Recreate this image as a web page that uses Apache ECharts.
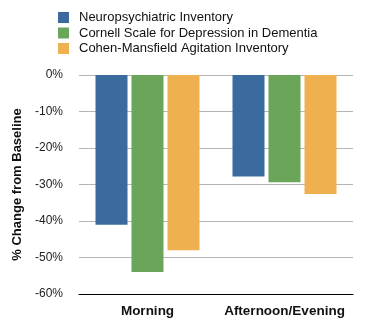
<!DOCTYPE html>
<html><head><meta charset="utf-8">
<script src="https://cdn.jsdelivr.net/npm/echarts@6/dist/echarts.min.js"></script>
<style>html,body{margin:0;padding:0;background:#fff}#c{width:367px;height:330px}</style>
</head><body><div id="c"></div>
<script>
const categories = ['Morning', 'Afternoon/Evening'];
const seriesNames = ['Neuropsychiatric Inventory', 'Cornell Scale for Depression in Dementia', 'Cohen-Mansfield Agitation Inventory'];
const npiValues = [-41, -27.8];
const cornellValues = [-54, -29.4];
const cohenValues = [-48, -32.6];
const colors = ['#3B6A9E', '#6BA55A', '#EFB04F'];
const font = '"Liberation Sans", Arial, sans-serif';

const chart = echarts.init(document.getElementById('c'));
const data = [npiValues, cornellValues, cohenValues];
chart.setOption({
  animation: false,
  textStyle: {fontFamily: font},
  legend: {
    orient: 'vertical', left: 58, top: 11, padding: 0,
    itemWidth: 11, itemHeight: 11, itemGap: 2.5,
    icon: 'rect',
    textStyle: {fontFamily: font, fontSize: 13, color: '#111', padding: [0,0,0,5]},
    data: seriesNames
  },
  grid: {left: 79, right: 14, top: 75, bottom: 36, containLabel: false},
  xAxis: {
    type: 'category', data: categories,
    axisLine: {onZero: false, lineStyle: {color: '#000', width: 1}},
    axisTick: {show: false},
    axisLabel: {interval: 0, fontFamily: font, fontSize: 13.5, fontWeight: 'bold', color: '#111', margin: 10}
  },
  yAxis: {
    type: 'value', min: -60, max: 0, interval: 10,
    name: '% Change from Baseline', nameLocation: 'middle', nameRotate: 90, nameGap: 52,
    nameTextStyle: {fontFamily: font, fontSize: 13, fontWeight: 'bold', color: '#111'},
    axisLine: {show: false}, axisTick: {show: false},
    axisLabel: {formatter: '{value}%', fontFamily: font, fontSize: 12, color: '#222', margin: 16},
    splitLine: {lineStyle: {color: '#b5b5b5', width: 1}}
  },
  series: seriesNames.map((n, i) => ({
    name: n, type: 'bar', data: data[i], barWidth: 32, barGap: '12.5%',
    itemStyle: {color: colors[i]}
  }))
});
</script></body></html>
